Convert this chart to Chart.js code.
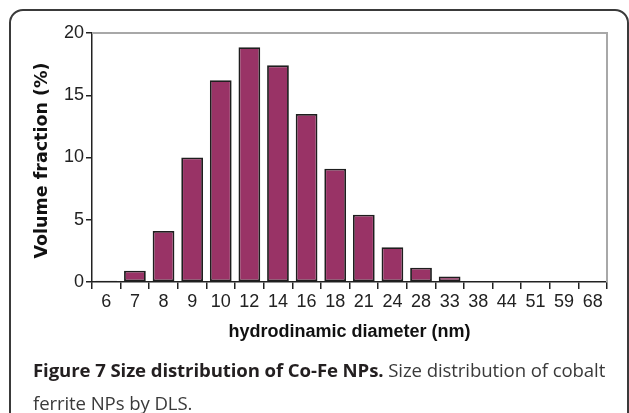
<!DOCTYPE html>
<html>
<head>
<meta charset="utf-8">
<script src="https://cdn.jsdelivr.net/npm/chart.js@4.4.0/dist/chart.umd.min.js"></script>
<style>
  html, body { margin: 0; padding: 0; background: #fff; }
  body { width: 629px; height: 413px; position: relative; overflow: hidden; }
  .frame {
    position: absolute; left: 9px; top: 9px; width: 620px; height: 520px;
    box-sizing: border-box; border: 2px solid #3a3a3a; border-radius: 14px;
  }
  .chart-box { position: absolute; left: 0; top: 0; width: 629px; height: 360px; }
  .caption {
    position: absolute; left: 33px; top: 353px; width: 600px;
    font-family: "Open Sans", sans-serif; font-size: 18.6px; line-height: 33px;
    color: #3a3a3a; white-space: nowrap; letter-spacing: -0.1px;
  }
  .caption b { color: #231f20; }
</style>
</head>
<body>
<div class="frame"></div>
<div class="chart-box"><canvas id="sizeChart"></canvas></div>
<div class="caption"><b>Figure 7 Size distribution of Co-Fe NPs.</b> Size distribution of cobalt<br>ferrite NPs by DLS.</div>
<script>
  const diameters = ["6", "7", "8", "9", "10", "12", "14", "16", "18", "21", "24", "28", "33", "38", "44", "51", "59", "68"];
  const volumeFraction = [0.1, 0.9, 4.1, 10.0, 16.2, 18.85, 17.4, 13.5, 9.1, 5.4, 2.8, 1.15, 0.45, 0.08, 0, 0, 0, 0];
  const yTicks = [0, 5, 10, 15, 20];

  const tickFont = { family: "'Liberation Sans', Arial, sans-serif", size: 18 };

  // gray frame on the top and right of the plot
  const plotFrame = {
    id: "plotFrame",
    afterDraw(chart) {
      const a = chart.chartArea;
      const ctx = chart.ctx;
      ctx.save();
      ctx.strokeStyle = "#a8a8a8";
      ctx.lineWidth = 2;
      ctx.beginPath();
      ctx.moveTo(a.left, a.top);
      ctx.lineTo(a.right, a.top);
      ctx.lineTo(a.right, a.bottom);
      ctx.stroke();
      ctx.restore();
    }
  };

  new Chart(document.getElementById("sizeChart"), {
    type: "bar",
    data: {
      labels: diameters,
      datasets: [{
        data: volumeFraction,
        backgroundColor: "#993366",
        borderColor: "#1e1e1e",
        borderWidth: 1.8,
        borderSkipped: false,
        barPercentage: 0.76,
        categoryPercentage: 1
      }]
    },
    options: {
      responsive: true,
      maintainAspectRatio: false,
      animation: false,
      layout: { padding: { left: 0, top: 33, right: 22, bottom: 0 } },
      plugins: { legend: { display: false }, tooltip: { enabled: false } },
      scales: {
        x: {
          afterFit(scale) { scale.height = 78; },
          grid: { offset: true, drawOnChartArea: false, color: "#222", lineWidth: 1.5, tickLength: 7 },
          border: { color: "#222", width: 1.5 },
          ticks: { color: "#222", font: tickFont, padding: 2, maxRotation: 0, autoSkip: false },
          title: {
            display: true, text: "hydrodinamic diameter (nm)", color: "#111",
            font: { family: "'Liberation Sans', Arial, sans-serif", size: 18, weight: "bold" },
            padding: { top: 0, bottom: 17 }
          }
        },
        y: {
          min: 0, max: 20,
          afterFit(scale) { scale.width = 92; },
          afterBuildTicks(scale) { scale.ticks = yTicks.map(v => ({ value: v })); },
          grid: { drawOnChartArea: false, color: "#222", lineWidth: 1.5, tickLength: 6 },
          border: { color: "#222", width: 1.5 },
          ticks: { color: "#222", font: tickFont, padding: 2 },
          title: {
            display: true, text: "Volume fraction (%) ", color: "#111",
            font: { family: "'DejaVu Sans', Arial, sans-serif", size: 17.5, weight: "bold" },
            padding: { top: 32, bottom: 0 }
          }
        }
      }
    },
    plugins: [plotFrame]
  });
</script>
</body>
</html>
